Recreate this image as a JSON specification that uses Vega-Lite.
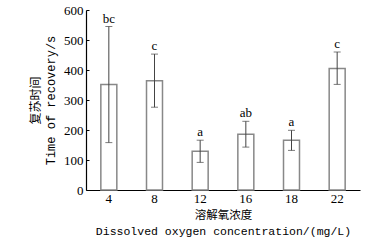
{
  "$schema": "https://vega.github.io/schema/vega-lite/v6.json",
  "autosize": "none",
  "width": 274,
  "height": 180,
  "padding": {"left": 86, "top": 10, "right": 19, "bottom": 54},
  "background": "white",
  "config": {"view": {"stroke": null}},
  "resolve": {"axis": {"y": "independent"}},
  "data": {"values": [
    {"do": "4", "time": 352, "low": 158, "high": 545, "group": "bc"},
    {"do": "8", "time": 364, "low": 276, "high": 453, "group": "c"},
    {"do": "12", "time": 129, "low": 92, "high": 166, "group": "a"},
    {"do": "16", "time": 186, "low": 143, "high": 229, "group": "ab"},
    {"do": "18", "time": 166, "low": 132, "high": 199, "group": "a"},
    {"do": "22", "time": 405, "low": 352, "high": 460, "group": "c"}
  ]},
  "encoding": {
    "x": {
      "field": "do", "type": "ordinal", "sort": null,
      "scale": {"paddingInner": 0.65, "paddingOuter": 0.325},
      "axis": {
        "title": ["溶解氧浓度", "Dissolved oxygen concentration/(mg/L)"],
        "titleFont": "Liberation Mono, Noto Sans CJK SC",
        "titleFontSize": 11.5,
        "titleFontWeight": "normal",
        "titleColor": "black",
        "titleLineHeight": 16,
        "titlePadding": 4,
        "labelAngle": 0,
        "labelFont": "Liberation Serif",
        "labelFontSize": 13,
        "labelColor": "black",
        "labelPadding": 2,
        "ticks": false,
        "domainColor": "black",
        "domainWidth": 1.2
      }
    }
  },
  "layer": [
    {
      "mark": {"type": "bar", "fill": "white", "stroke": "#888888", "strokeWidth": 1.5},
      "encoding": {
        "y": {
          "field": "time", "type": "quantitative",
          "scale": {"domain": [0, 600]},
          "axis": {
            "values": [0, 100, 200, 300, 400, 500, 600],
            "labelOverlap": false,
            "title": ["复苏时间", "Time of recovery/s"],
            "titleFont": "Liberation Mono, Noto Sans CJK SC",
            "titleFontSize": 12,
            "titleFontWeight": "normal",
            "titleColor": "black",
            "titleLineHeight": 15,
            "titlePadding": 6,
            "labelFont": "Liberation Serif",
            "labelFontSize": 13,
            "labelColor": "black",
            "labelPadding": 6,
            "tickSize": -3,
            "tickColor": "black",
            "domainColor": "black",
            "domainWidth": 1.2,
            "grid": false
          }
        }
      }
    },
    {
      "mark": {"type": "rule", "color": "#444444", "strokeWidth": 1},
      "encoding": {
        "y": {"field": "low", "type": "quantitative", "axis": null},
        "y2": {"field": "high"}
      }
    },
    {
      "mark": {"type": "tick", "color": "#444444", "thickness": 1, "size": 7},
      "encoding": {"y": {"field": "low", "type": "quantitative", "axis": null}}
    },
    {
      "mark": {"type": "tick", "color": "#444444", "thickness": 1, "size": 7},
      "encoding": {"y": {"field": "high", "type": "quantitative", "axis": null}}
    },
    {
      "mark": {"type": "text", "baseline": "bottom", "dy": -1, "font": "Liberation Serif", "fontSize": 13, "color": "black"},
      "encoding": {
        "y": {"field": "high", "type": "quantitative", "axis": null},
        "text": {"field": "group"}
      }
    }
  ]
}
